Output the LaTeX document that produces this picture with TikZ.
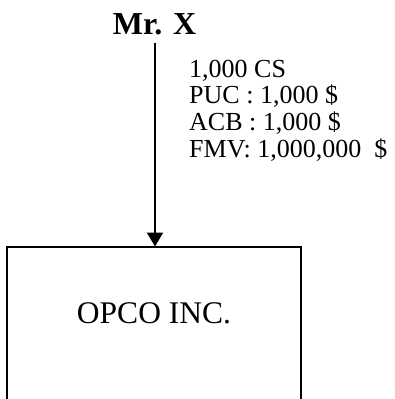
\documentclass[tikz,border=0pt]{standalone}
\usepackage{fontspec}
\setmainfont{Liberation Serif}
\usetikzlibrary{arrows.meta}
\tikzset{
  boxline/.style={line width=2pt, line cap=rect},
  flow/.style={line width=2pt, -{Triangle[width=16pt,length=14pt]}},
  info/.style={anchor=base west, inner sep=0pt, font=\fontsize{26}{27}\selectfont},
}
\begin{document}
\begin{tikzpicture}[x=1pt,y=-1pt]
\useasboundingbox (0,0) rectangle (395,399);
% shareholder
\node[anchor=base, inner sep=0pt, font=\fontsize{32}{36}\selectfont\bfseries] (mrx) at (154.5,34.5) {Mr. X};
% company box (bottom cut off by the page edge)
\coordinate (bl) at (7,400);
\coordinate (tl) at (7,246.5);
\coordinate (tm) at (155,246.5);
\coordinate (tr) at (301,246.5);
\coordinate (br) at (301,400);
\draw[boxline] (bl) -- (tl) -- (tr) -- (br);
\node[anchor=base, inner sep=0pt, font=\fontsize{31.5}{36}\selectfont] (opco) at (154,323) {OPCO INC.};
% holding arrow
\draw[flow] ([xshift=0.5pt,yshift=-8pt]mrx.south) -- (tm);
% share information
\node[info] (l1) at (189,77.5) {1,000 CS};
\node[info] (l2) at (189,103.5) {PUC : 1,000 \$};
\node[info] (l3) at (189,130) {ACB : 1,000 \$};
\node[info] (l4) at (189,157) {FMV: 1,000,000~~\$};
\end{tikzpicture}
\end{document}
